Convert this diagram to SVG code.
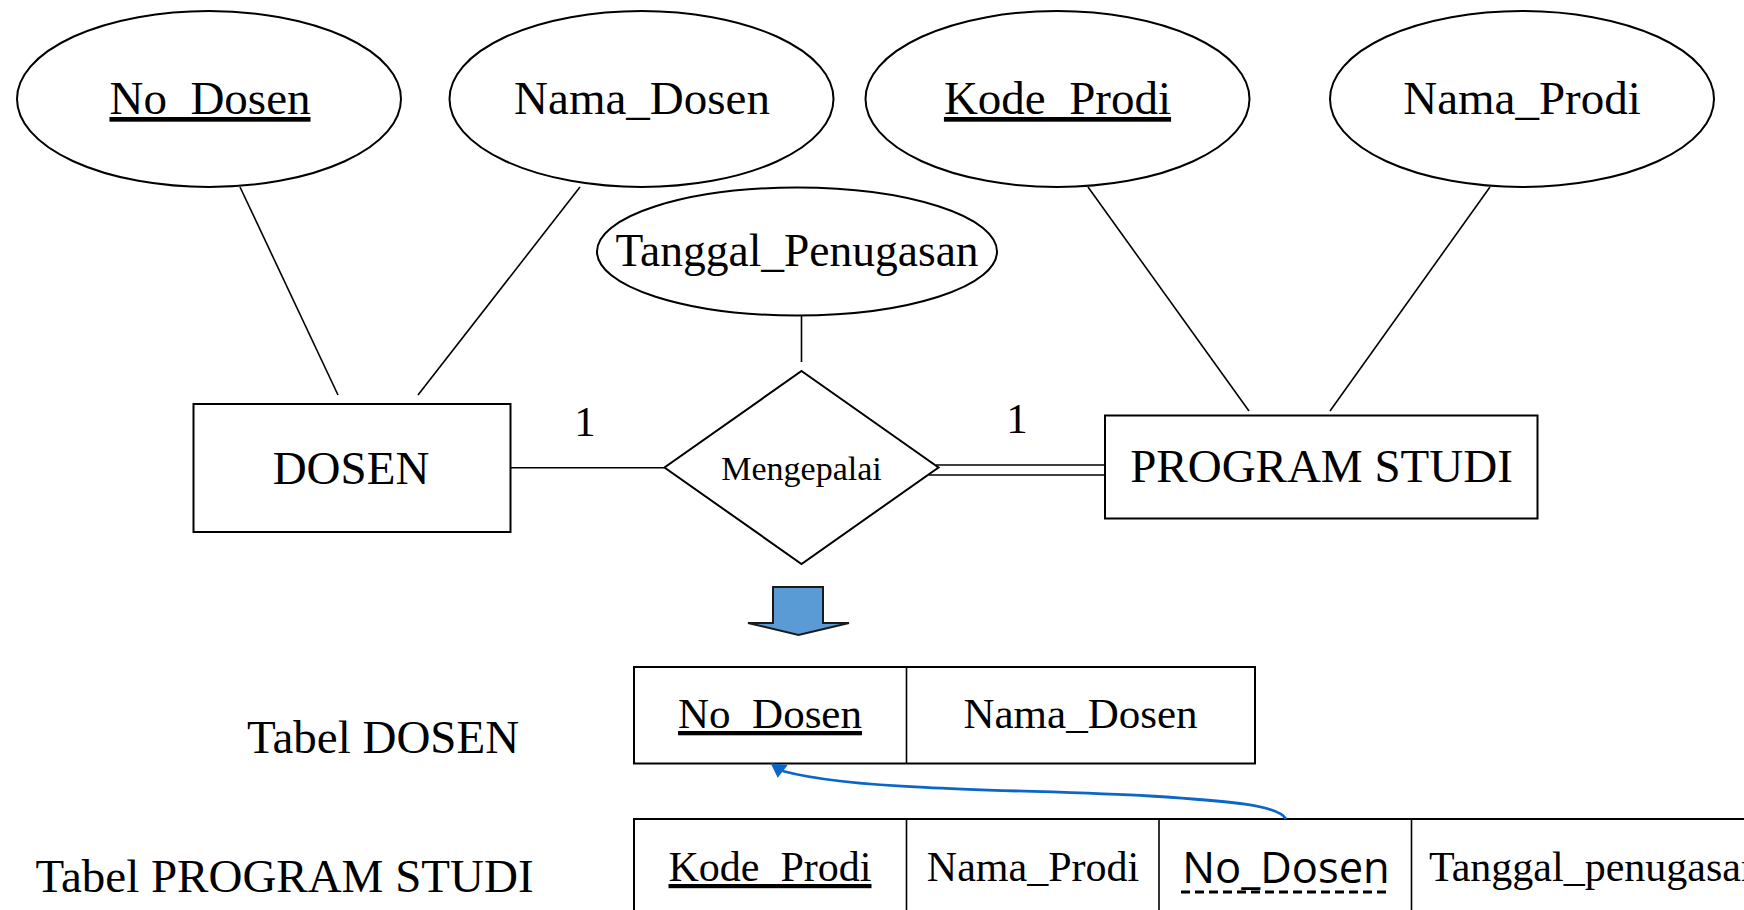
<svg xmlns="http://www.w3.org/2000/svg" width="1744" height="910" viewBox="0 0 1744 910">
  <style>
    .shape { fill: #ffffff; stroke: #000000; stroke-width: 2; }
    .link { fill: none; stroke: #000000; stroke-width: 1.6; }
    .txt { font-family: "Liberation Serif", "Times New Roman", serif; fill: #000000; text-anchor: middle; }
    .attr { font-size: 47px; }
    .ent { font-size: 47px; }
    .cell { font-size: 42px; }
    .key { text-decoration: underline; }
    .card { font-size: 43px; }
    .cellline { stroke: #000000; stroke-width: 1.6; }
  </style>

  <rect width="1744" height="910" fill="#ffffff"/>

  <!-- connectors -->
  <g id="connectors">
    <line class="link" x1="240" y1="187" x2="338" y2="395"/>
    <line class="link" x1="580" y1="187" x2="418" y2="395"/>
    <line class="link" x1="1088" y1="187" x2="1249" y2="411"/>
    <line class="link" x1="1490" y1="187" x2="1330" y2="411"/>
    <line class="link" x1="801.5" y1="316" x2="801.5" y2="362"/>
    <line class="link" x1="511" y1="467.7" x2="665" y2="467.7"/>
    <!-- total participation: double line -->
    <line class="link" x1="936" y1="465" x2="1108" y2="465"/>
    <line class="link" x1="929" y1="475" x2="1105" y2="475"/>
    <text class="txt card" x="585" y="436">1</text>
    <text class="txt card" x="1017" y="433">1</text>
  </g>

  <!-- attributes -->
  <g id="attr-no-dosen">
    <ellipse class="shape" cx="209" cy="99" rx="192" ry="88"/>
    <text class="txt attr key" x="210" y="114">No_Dosen</text>
  </g>
  <g id="attr-nama-dosen">
    <ellipse class="shape" cx="641.5" cy="99" rx="192" ry="88"/>
    <text class="txt attr" x="642" y="114">Nama_Dosen</text>
  </g>
  <g id="attr-kode-prodi">
    <ellipse class="shape" cx="1057.5" cy="99" rx="192" ry="88"/>
    <text class="txt attr key" x="1057.5" y="114">Kode_Prodi</text>
  </g>
  <g id="attr-nama-prodi">
    <ellipse class="shape" cx="1522" cy="99" rx="192" ry="88"/>
    <text class="txt attr" x="1522" y="114">Nama_Prodi</text>
  </g>
  <g id="attr-tanggal">
    <ellipse class="shape" cx="797" cy="251.5" rx="200" ry="64"/>
    <text class="txt" font-size="45.5" x="797" y="266">Tanggal_Penugasan</text>
  </g>

  <!-- entities -->
  <g id="entity-dosen">
    <rect class="shape" x="193.5" y="404" width="317" height="128"/>
    <text class="txt ent" x="351" y="484">DOSEN</text>
  </g>
  <g id="entity-program-studi">
    <rect class="shape" x="1105" y="415.5" width="432.5" height="103"/>
    <text class="txt ent" x="1321.5" y="482">PROGRAM STUDI</text>
  </g>

  <!-- relationship -->
  <g id="rel-mengepalai">
    <polygon class="shape" points="801.5,371 938.5,467.5 801.5,564 664.5,467.5"/>
    <text class="txt" font-size="34" x="801.5" y="480">Mengepalai</text>
  </g>

  <!-- transformation arrow -->
  <g id="transform-arrow">
    <polygon points="773,587 823,587 823,623 849,623 798.5,635 748,623 773,623" fill="#5B9BD5" stroke="#1a1a1a" stroke-width="2" stroke-linejoin="miter"/>
  </g>

  <!-- relational tables -->
  <g id="label-tabel-dosen">
    <text class="txt" font-size="47" style="text-anchor:start" x="247" y="753">Tabel DOSEN</text>
  </g>
  <g id="label-tabel-prodi">
    <text class="txt" font-size="47" style="text-anchor:start" x="35.5" y="892">Tabel PROGRAM STUDI</text>
  </g>

  <g id="table-dosen">
    <rect class="shape" x="634" y="667" width="621" height="96.5"/>
    <line class="cellline" x1="906.5" y1="667" x2="906.5" y2="763.5"/>
    <text class="txt key" font-size="43" x="770" y="728">No_Dosen</text>
    <text class="txt" font-size="43" x="1080.5" y="728">Nama_Dosen</text>
  </g>

  <g id="table-program-studi">
    <rect class="shape" x="634" y="819" width="1200" height="200"/>
    <line class="cellline" x1="906.5" y1="819" x2="906.5" y2="910"/>
    <line class="cellline" x1="1159" y1="819" x2="1159" y2="910"/>
    <line class="cellline" x1="1411.5" y1="819" x2="1411.5" y2="910"/>
    <text class="txt cell key" x="770" y="881">Kode_Prodi</text>
    <text class="txt cell" x="1033" y="881">Nama_Prodi</text>
    <text font-family="'Open Sans', 'DejaVu Sans', sans-serif" font-size="43.5" fill="#000000" text-anchor="middle" x="1286" y="883">No_Dosen</text>
    <line x1="1181" y1="892" x2="1391" y2="892" stroke="#000000" stroke-width="2.8" stroke-dasharray="9 5"/>
    <text class="txt cell" style="text-anchor:start" x="1429" y="881">Tanggal_penugasan</text>
  </g>

  <!-- foreign key reference -->
  <g id="fk-link">
    <path d="M1286,819 C1278,805 1230,801 1150,796 C1080,792 990,791 925,787.3 C870,785 820,781 782.5,771" fill="none" stroke="#0A66C8" stroke-width="2.8"/>
    <polygon points="770.7,763.3 787.7,765 777.7,777.7" fill="#0A66C8"/>
  </g>
</svg>
